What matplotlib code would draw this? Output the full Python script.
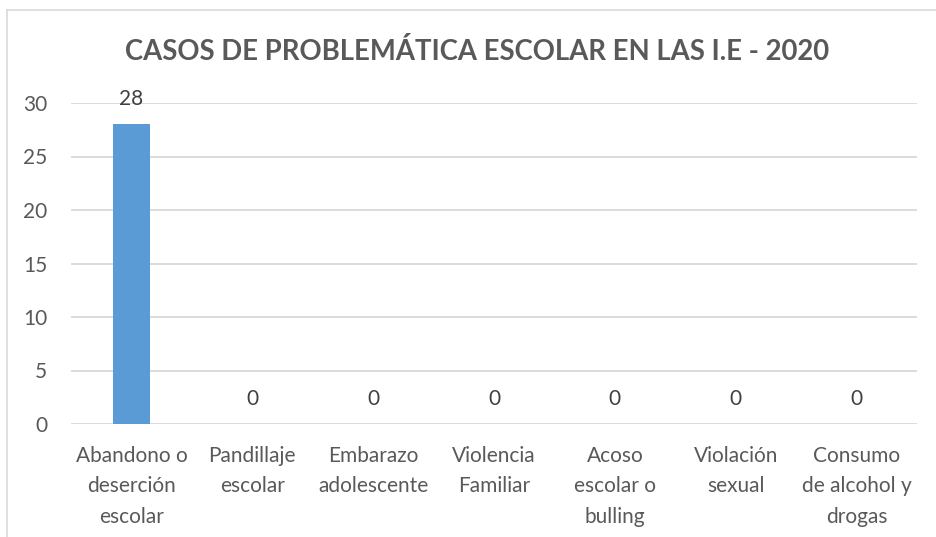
import matplotlib
matplotlib.use("Agg")
import matplotlib.pyplot as plt
from matplotlib.lines import Line2D

# chart data
categories = [
    "Abandono o\ndeserción\nescolar",
    "Pandillaje\nescolar",
    "Embarazo\nadolescente",
    "Violencia\nFamiliar",
    "Acoso\nescolar o\nbulling",
    "Violación\nsexual",
    "Consumo\nde alcohol y\ndrogas",
]
casos = [28, 0, 0, 0, 0, 0, 0]
y_ticks = [0, 5, 10, 15, 20, 25, 30]
title = "CASOS DE PROBLEMÁTICA ESCOLAR EN LAS I.E - 2020"

text_color = "#595959"
grid_color = "#d9d9d9"
bar_color = "#5b9bd5"

plt.rcParams["font.family"] = ["Lato", "DejaVu Sans"]

fig = plt.figure(figsize=(9.36, 5.37), dpi=100)
ax = fig.add_axes([71 / 936, 1 - 424 / 537, (917 - 71) / 936, (424 - 103) / 537])

x = range(len(categories))
bars = ax.bar(x, casos, width=0.31, color=bar_color, zorder=3)

ax.set_ylim(0, 30)
ax.set_xlim(-0.5, len(categories) - 0.5)
ax.set_yticks(y_ticks)
ax.set_yticklabels([str(v) for v in y_ticks], fontsize=15, color=text_color)
ax.set_xticks(list(x))
ax.set_xticklabels(categories, fontsize=15, color=text_color, linespacing=1.64)
ax.tick_params(axis="both", length=0)
ax.tick_params(axis="x", pad=16)
ax.tick_params(axis="y", pad=17)

ax.yaxis.grid(True, color=grid_color, linewidth=1.3, zorder=0)
for s in ax.spines.values():
    s.set_visible(False)

for rect, v in zip(bars, casos):
    ax.annotate(str(v), (rect.get_x() + rect.get_width() / 2, v),
                xytext=(0, 11), textcoords="offset points",
                ha="center", va="bottom", fontsize=15, color="#404040")

fig.text(477 / 936, 1 - 51 / 537, title, ha="center", va="center",
         fontsize=19.8, fontweight="bold", color=text_color)

# chart frame (left and top edges visible)
fig.add_artist(Line2D([7 / 936, 7 / 936], [0, 1 - 10 / 537], color=grid_color, linewidth=1.2))
fig.add_artist(Line2D([7 / 936, 1], [1 - 10 / 537, 1 - 10 / 537], color=grid_color, linewidth=1.2))

fig.savefig("out.png", dpi=100)
